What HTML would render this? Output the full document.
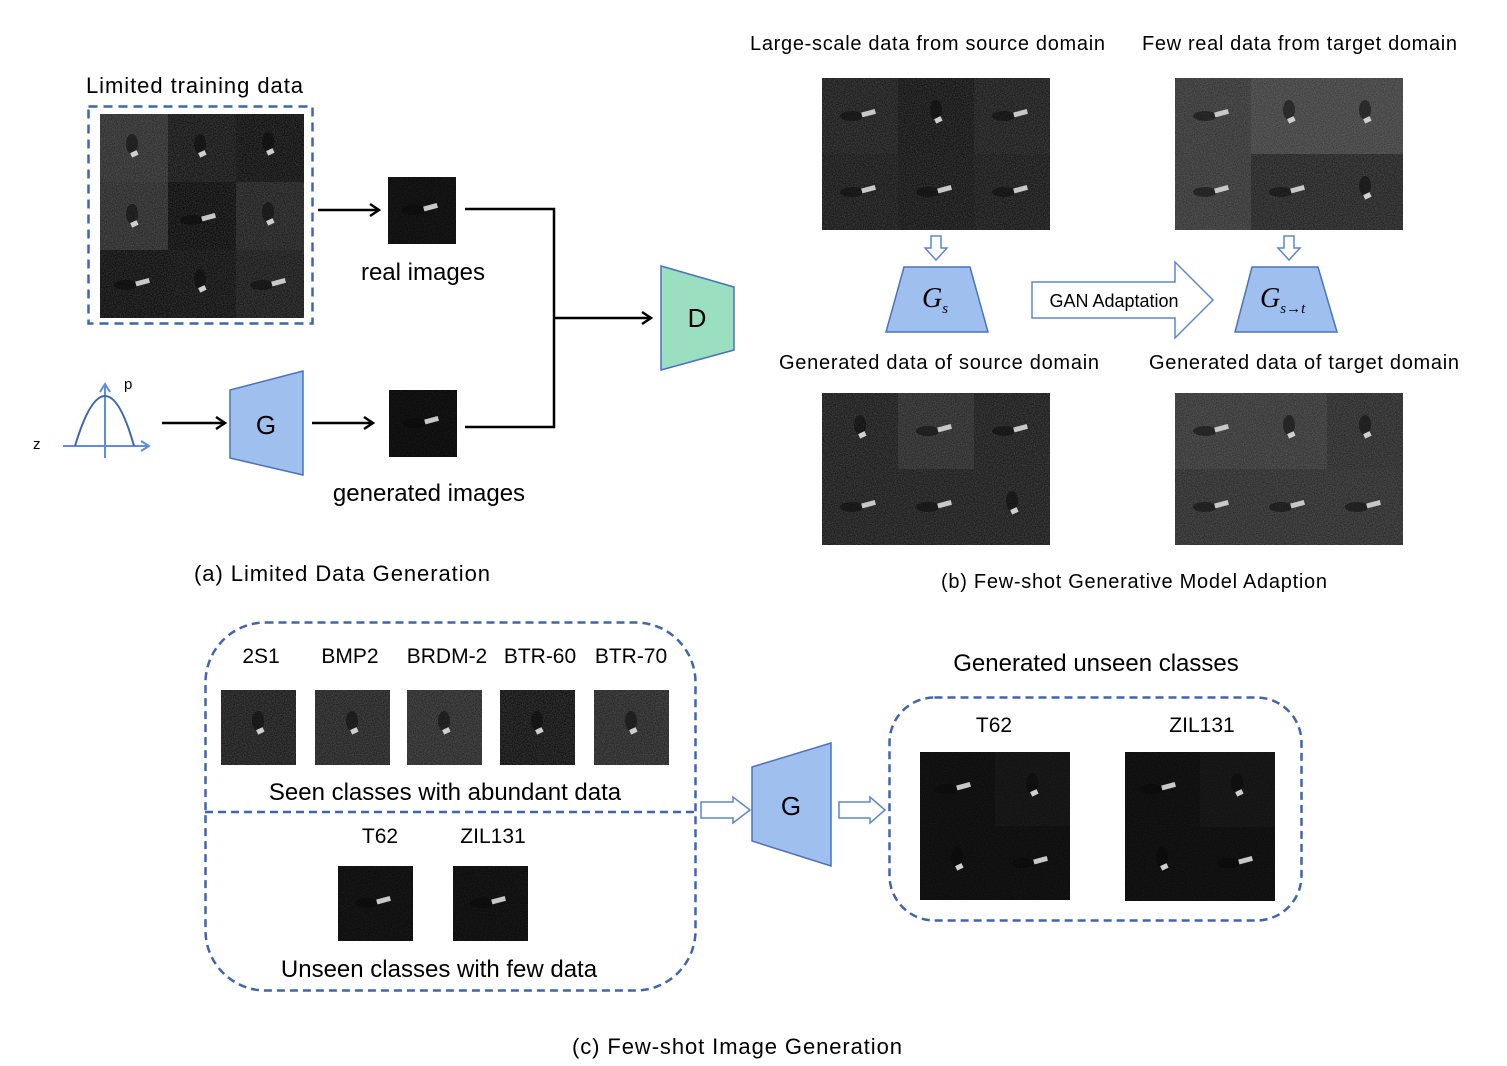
<!DOCTYPE html>
<html><head><meta charset="utf-8"><style>
html,body{margin:0;padding:0;background:#fff;}
svg{display:block;}
text{font-family:"Liberation Sans",Arial,sans-serif;fill:#000;}
</style></head><body>
<svg width="1507" height="1066" viewBox="0 0 1507 1066" xmlns="http://www.w3.org/2000/svg">
<defs>
<filter id="nz" x="0" y="0" width="100%" height="100%">
<feTurbulence type="fractalNoise" baseFrequency="0.9" numOctaves="1" seed="3"/>
<feColorMatrix type="matrix" values="0 0 0 0 1  0 0 0 0 1  0 0 0 0 1  0 0 0 0.3 -0.08"/>
</filter>
<g id="tg"><ellipse cx="0" cy="-6" rx="6" ry="10" fill="#080808" opacity="0.5"/><rect x="-3" y="2" width="7" height="5" fill="#cfcfcf" transform="rotate(-25)"/></g>
<g id="th"><ellipse cx="-8" cy="0" rx="12" ry="5" fill="#080808" opacity="0.5"/><rect x="2" y="-3" width="14" height="5" fill="#c8c8c8" transform="rotate(-15)"/></g>
</defs>

<!-- (a) -->
<text x="86" y="93" font-size="22" textLength="217">Limited training data</text>
<rect x="88.5" y="106.5" width="224" height="217" fill="none" stroke="#3e66b0" stroke-width="2.5" stroke-dasharray="9,6"/>
<g>
<rect x="100" y="114" width="68" height="68" fill="#2e2e2e"/><rect x="168" y="114" width="68" height="68" fill="#161616"/><rect x="236" y="114" width="68" height="68" fill="#101010"/>
<rect x="100" y="182" width="68" height="68" fill="#2a2a2a"/><rect x="168" y="182" width="68" height="68" fill="#0c0c0c"/><rect x="236" y="182" width="68" height="68" fill="#202020"/>
<rect x="100" y="250" width="68" height="68" fill="#0e0e0e"/><rect x="168" y="250" width="68" height="68" fill="#101010"/><rect x="236" y="250" width="68" height="68" fill="#1a1a1a"/>
<rect x="100" y="114" width="204" height="204" filter="url(#nz)"/>
<use href="#tg" x="132" y="150"/><use href="#tg" x="200" y="150"/><use href="#tg" x="268" y="148"/>
<use href="#tg" x="132" y="220"/><use href="#th" x="200" y="220"/><use href="#tg" x="268" y="218"/>
<use href="#th" x="134" y="285"/><use href="#tg" x="200" y="285"/><use href="#th" x="270" y="285"/>
</g>
<rect x="388" y="177" width="68" height="67" fill="#0c0c0c"/><rect x="388" y="177" width="68" height="67" filter="url(#nz)" opacity="0.4"/><use href="#th" x="422" y="210"/>
<text x="423" y="280" font-size="24" text-anchor="middle">real images</text>
<rect x="389" y="390" width="68" height="67" fill="#0a0a0a"/><rect x="389" y="390" width="68" height="67" filter="url(#nz)" opacity="0.4"/><use href="#th" x="423" y="423"/>
<text x="429" y="501" font-size="24" text-anchor="middle">generated images</text>
<g stroke="#000" stroke-width="2.5" fill="none">
<line x1="318" y1="210" x2="378" y2="210"/><polyline points="370,204 379,210 370,216"/>
<polyline points="465,209 554,209 554,427 465,427"/>
<line x1="554" y1="318" x2="650" y2="318"/><polyline points="642,312 651,318 642,324"/>
<line x1="162" y1="423" x2="224" y2="423"/><polyline points="216,417 225,423 216,429"/>
<line x1="312" y1="423" x2="372" y2="423"/><polyline points="364,417 373,423 364,429"/>
</g>
<polygon points="661,266 734,287 734,350 661,370" fill="#99dfc0" stroke="#4a72c0" stroke-width="1.5"/>
<text x="697" y="327" font-size="26" text-anchor="middle">D</text>
<polygon points="230,390 303,371 303,475 230,458" fill="#9fc0ee" stroke="#4a72c0" stroke-width="1.5"/>
<text x="266" y="434" font-size="26" text-anchor="middle">G</text>
<g stroke="#5b8ee0" stroke-width="2" fill="none">
<line x1="63" y1="446" x2="149" y2="446"/><polyline points="141,441 149,446 141,451"/>
<line x1="105" y1="458" x2="105" y2="384"/><polyline points="100,392 105,384 110,392"/>
</g>
<path d="M75,446 Q90,396 105,396 Q120,396 134,446" fill="none" stroke="#3e66b0" stroke-width="2"/>
<text x="33" y="449" font-size="15">z</text><text x="124" y="389" font-size="15">p</text>
<text x="342" y="581" font-size="22" text-anchor="middle" textLength="296">(a) Limited Data Generation</text>

<!-- (b) -->
<text x="750" y="50" font-size="20" textLength="355">Large-scale data from source domain</text>
<text x="1142" y="50" font-size="20" textLength="315">Few real data from target domain</text>
<g>
<rect x="822" y="78" width="228" height="152" fill="#1c1c1c"/><rect x="898" y="78" width="76" height="152" fill="#131313"/><rect x="822" y="154" width="228" height="76" fill="#161616" opacity="0.6"/>
<rect x="822" y="78" width="228" height="152" filter="url(#nz)"/>
<use href="#th" x="860" y="116"/><use href="#tg" x="936" y="116"/><use href="#th" x="1012" y="116"/>
<use href="#th" x="860" y="192"/><use href="#th" x="936" y="192"/><use href="#th" x="1012" y="192"/>
</g>
<g>
<rect x="1175" y="78" width="228" height="152" fill="#363636"/><rect x="1251" y="78" width="152" height="76" fill="#404040"/><rect x="1251" y="154" width="152" height="76" fill="#242424"/>
<rect x="1175" y="78" width="228" height="152" filter="url(#nz)"/>
<use href="#th" x="1213" y="116"/><use href="#tg" x="1289" y="116"/><use href="#tg" x="1365" y="116"/>
<use href="#th" x="1213" y="192"/><use href="#th" x="1289" y="192"/><use href="#tg" x="1365" y="192"/>
</g>
<g fill="#fff" stroke="#5b86d0" stroke-width="1.5">
<polygon points="931,236 941,236 941,248 947,248 936,260 925,248 931,248"/>
<polygon points="1284,236 1294,236 1294,248 1300,248 1289,260 1278,248 1284,248"/>
<polygon points="1032,282 1175,282 1175,262 1213,300 1175,338 1175,318 1032,318"/>
</g>
<text x="1114" y="307" font-size="18" text-anchor="middle">GAN Adaptation</text>
<polygon points="904,267 970,267 988,332 886,332" fill="#9fc0ee" stroke="#4a72c0" stroke-width="1.5"/>
<polygon points="1252,267 1318,267 1337,332 1235,332" fill="#9fc0ee" stroke="#4a72c0" stroke-width="1.5"/>
<text x="922" y="307" font-size="28" font-style="italic" style="font-family:'Liberation Serif',serif">G<tspan font-size="15" dy="6">s</tspan></text>
<text x="1260" y="307" font-size="28" font-style="italic" style="font-family:'Liberation Serif',serif">G<tspan font-size="15" dy="6">s→t</tspan></text>
<text x="939" y="369" font-size="20" text-anchor="middle" textLength="320">Generated data of source domain</text>
<text x="1304" y="369" font-size="20" text-anchor="middle" textLength="310">Generated data of target domain</text>
<g>
<rect x="822" y="393" width="228" height="152" fill="#1c1c1c"/><rect x="898" y="393" width="76" height="76" fill="#2a2a2a"/>
<rect x="822" y="393" width="228" height="152" filter="url(#nz)"/>
<use href="#tg" x="860" y="431"/><use href="#th" x="936" y="431"/><use href="#th" x="1012" y="431"/>
<use href="#th" x="860" y="507"/><use href="#th" x="936" y="507"/><use href="#tg" x="1012" y="507"/>
</g>
<g>
<rect x="1175" y="393" width="228" height="152" fill="#363636"/><rect x="1327" y="393" width="76" height="76" fill="#2a2a2a"/><rect x="1175" y="469" width="228" height="76" fill="#2c2c2c"/>
<rect x="1175" y="393" width="228" height="152" filter="url(#nz)"/>
<use href="#th" x="1213" y="431"/><use href="#tg" x="1289" y="431"/><use href="#tg" x="1365" y="431"/>
<use href="#th" x="1213" y="507"/><use href="#th" x="1289" y="507"/><use href="#th" x="1365" y="507"/>
</g>
<text x="1134" y="588" font-size="20" text-anchor="middle" textLength="386">(b) Few-shot Generative Model Adaption</text>

<!-- (c) -->
<rect x="205.5" y="622.5" width="490" height="368" rx="60" fill="none" stroke="#3e66b0" stroke-width="2.5" stroke-dasharray="8,5"/>
<line x1="205" y1="812" x2="695" y2="812" stroke="#3e66b0" stroke-width="2.5" stroke-dasharray="8,5"/>
<g font-size="21" text-anchor="middle">
<text x="261" y="663">2S1</text><text x="350" y="663">BMP2</text><text x="447" y="663">BRDM-2</text><text x="540" y="663">BTR-60</text><text x="631" y="663">BTR-70</text>
<text x="380" y="843">T62</text><text x="493" y="843">ZIL131</text>
</g>
<g>
<rect x="221" y="690" width="75" height="75" fill="#1c1c1c"/><rect x="315" y="690" width="75" height="75" fill="#242424"/><rect x="407" y="690" width="75" height="75" fill="#2a2a2a"/><rect x="500" y="690" width="75" height="75" fill="#121212"/><rect x="594" y="690" width="75" height="75" fill="#282828"/>
<rect x="338" y="866" width="75" height="75" fill="#0c0c0c"/><rect x="453" y="866" width="75" height="75" fill="#0c0c0c"/>
<rect x="221" y="690" width="75" height="75" filter="url(#nz)"/><rect x="315" y="690" width="75" height="75" filter="url(#nz)"/><rect x="407" y="690" width="75" height="75" filter="url(#nz)"/><rect x="500" y="690" width="75" height="75" filter="url(#nz)"/><rect x="594" y="690" width="75" height="75" filter="url(#nz)"/>
<rect x="338" y="866" width="75" height="75" filter="url(#nz)" opacity="0.4"/><rect x="453" y="866" width="75" height="75" filter="url(#nz)" opacity="0.4"/>
<use href="#tg" x="258" y="727"/><use href="#tg" x="352" y="727"/><use href="#tg" x="444" y="727"/><use href="#tg" x="537" y="727"/><use href="#tg" x="631" y="727"/>
<use href="#th" x="375" y="903"/><use href="#th" x="490" y="903"/>
</g>
<text x="445" y="800" font-size="24" text-anchor="middle">Seen classes with abundant data</text>
<text x="439" y="977" font-size="24" text-anchor="middle">Unseen classes with few data</text>
<g fill="#fff" stroke="#5b86d0" stroke-width="1.5">
<polygon points="701,802 733,802 733,797 750,810 733,823 733,818 701,818"/>
<polygon points="839,802 870,802 870,797 885,810 870,823 870,818 839,818"/>
</g>
<polygon points="752,767 831,743 831,866 752,841" fill="#9fc0ee" stroke="#4a72c0" stroke-width="1.5"/>
<text x="791" y="815" font-size="26" text-anchor="middle">G</text>
<text x="1096" y="671" font-size="24" text-anchor="middle">Generated unseen classes</text>
<rect x="889.5" y="697.5" width="412" height="223" rx="45" fill="none" stroke="#3e66b0" stroke-width="2.5" stroke-dasharray="8,5"/>
<text x="994" y="732" font-size="21" text-anchor="middle">T62</text><text x="1202" y="732" font-size="21" text-anchor="middle">ZIL131</text>
<g>
<rect x="920" y="752" width="150" height="148" fill="#0c0c0c"/><rect x="995" y="752" width="75" height="74" fill="#121212"/>
<rect x="1125" y="752" width="150" height="149" fill="#0c0c0c"/><rect x="1200" y="752" width="75" height="75" fill="#121212"/>
<rect x="920" y="752" width="150" height="148" filter="url(#nz)" opacity="0.3"/><rect x="1125" y="752" width="150" height="149" filter="url(#nz)" opacity="0.3"/>
<use href="#th" x="955" y="789"/><use href="#tg" x="1032" y="789"/><use href="#tg" x="957" y="863"/><use href="#th" x="1032" y="863"/>
<use href="#th" x="1160" y="789"/><use href="#tg" x="1237" y="789"/><use href="#tg" x="1162" y="863"/><use href="#th" x="1237" y="863"/>
</g>
<text x="737" y="1054" font-size="22" text-anchor="middle" textLength="330">(c) Few-shot Image Generation</text>
</svg>
</body></html>
